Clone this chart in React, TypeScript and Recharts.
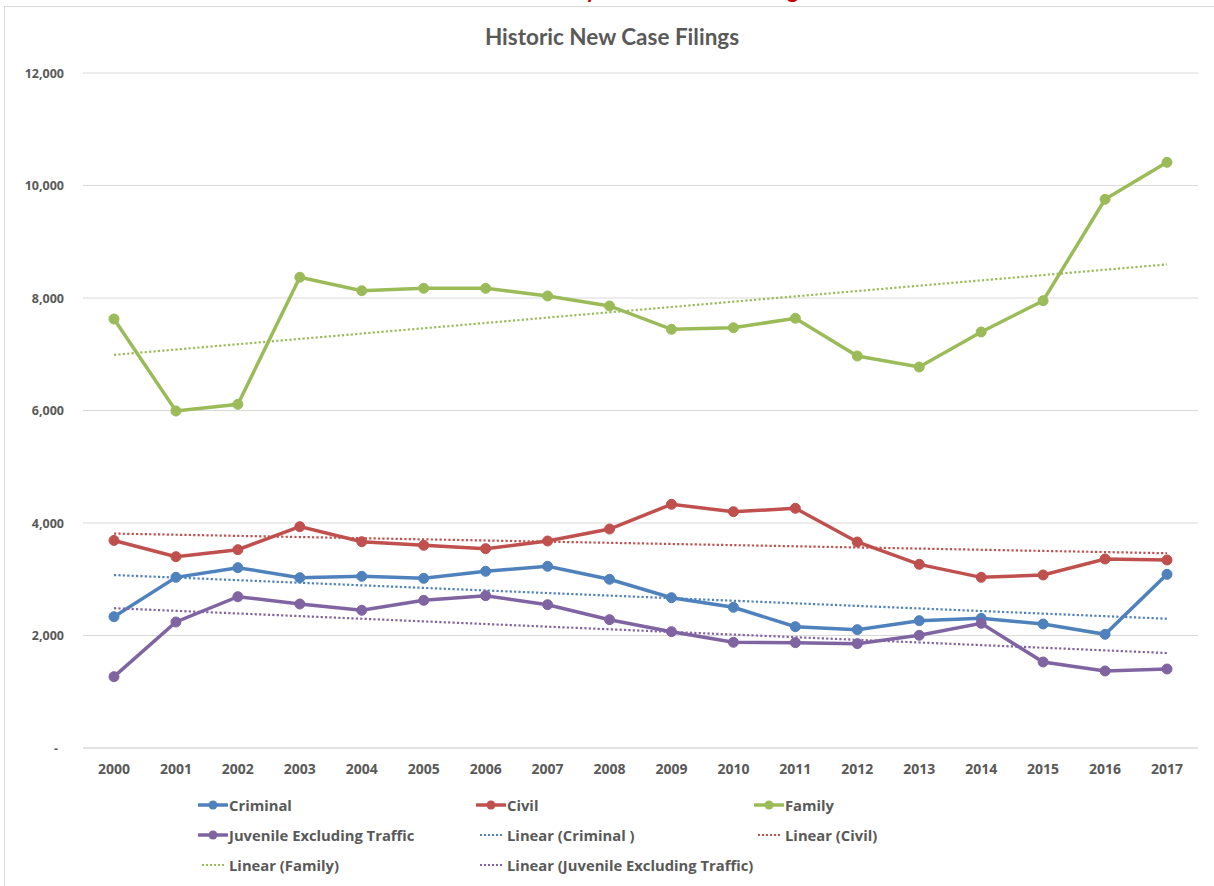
import React from 'react';
import { LineChart, Line, XAxis, YAxis, CartesianGrid } from 'recharts';

const years = ['2000', '2001', '2002', '2003', '2004', '2005', '2006', '2007', '2008', '2009', '2010', '2011', '2012', '2013', '2014', '2015', '2016', '2017'];
const criminal = [2335, 3034, 3206, 3028, 3052, 3016, 3141, 3230, 2999, 2672, 2501, 2157, 2104, 2264, 2305, 2204, 2021, 3087];
const civil = [3690, 3401, 3526, 3935, 3668, 3603, 3544, 3680, 3893, 4332, 4201, 4261, 3662, 3265, 3034, 3076, 3360, 3342];
const family = [7627, 5991, 6110, 8368, 8130, 8172, 8172, 8036, 7858, 7443, 7472, 7639, 6969, 6773, 7396, 7952, 9754, 10412];
const juvenile = [1268, 2240, 2690, 2560, 2448, 2625, 2708, 2548, 2281, 2068, 1879, 1873, 1855, 2003, 2216, 1529, 1369, 1404];
const yTicks = [0, 2000, 4000, 6000, 8000, 10000, 12000];

const title = 'Historic New Case Filings';
const pageHeading = 'Sandoval County Historic Court Filings';

const COLORS = {
  criminal: '#4F81BD',
  civil: '#C0504D',
  family: '#9BBB59',
  juvenile: '#8064A2',
};

// Least-squares linear trend, as Excel's "Linear" trendline
function linearTrend(values: number[]): number[] {
  const n = values.length;
  const mx = (n - 1) / 2;
  const my = values.reduce((a, b) => a + b, 0) / n;
  let sxy = 0;
  let sxx = 0;
  values.forEach((v, i) => {
    sxy += (i - mx) * (v - my);
    sxx += (i - mx) * (i - mx);
  });
  const slope = sxy / sxx;
  return values.map((_, i) => my + slope * (i - mx));
}

const criminalTrend = linearTrend(criminal);
const civilTrend = linearTrend(civil);
const familyTrend = linearTrend(family);
const juvenileTrend = linearTrend(juvenile);

const data = years.map((year, i) => ({
  year,
  criminal: criminal[i],
  civil: civil[i],
  family: family[i],
  juvenile: juvenile[i],
  criminalTrend: criminalTrend[i],
  civilTrend: civilTrend[i],
  familyTrend: familyTrend[i],
  juvenileTrend: juvenileTrend[i],
}));

const FONT = '"Open Sans", Lato, sans-serif';
const TITLE_FONT = 'Lato, "Open Sans", sans-serif';
const TEXT = '#595959';

const YTick = (props: any) => {
  const { y, payload } = props;
  const v = payload.value as number;
  const label = v === 0 ? '-' : v.toLocaleString('en-US');
  return (
    <text x={v === 0 ? 54 : 60} y={y} dy={4.5} textAnchor="end" fontFamily={FONT} fontWeight={700} fontSize={12.5} fill={TEXT}>
      {label}
    </text>
  );
};

const XTick = (props: any) => {
  const { x, payload } = props;
  return (
    <text x={x} y={768} textAnchor="middle" fontFamily={FONT} fontWeight={700} fontSize={14} fill={TEXT}>
      {payload.value}
    </text>
  );
};

const legendItems = [
  { label: 'Criminal', color: COLORS.criminal, dotted: false, col: 0, row: 0 },
  { label: 'Civil', color: COLORS.civil, dotted: false, col: 1, row: 0 },
  { label: 'Family', color: COLORS.family, dotted: false, col: 2, row: 0 },
  { label: 'Juvenile Excluding Traffic', color: COLORS.juvenile, dotted: false, col: 0, row: 1 },
  { label: 'Linear (Criminal )', color: COLORS.criminal, dotted: true, col: 1, row: 1 },
  { label: 'Linear (Civil)', color: COLORS.civil, dotted: true, col: 2, row: 1 },
  { label: 'Linear (Family)', color: COLORS.family, dotted: true, col: 0, row: 2 },
  { label: 'Linear (Juvenile Excluding Traffic)', color: COLORS.juvenile, dotted: true, col: 1, row: 2 },
];
const legendCols = [198, 476, 754];
const legendRows = [805, 835, 865];

const LegendIcon = ({ color, dotted }: { color: string; dotted: boolean }) => (
  <svg width={30} height={12} style={{ display: 'block' }}>
    {dotted ? (
      <line x1={4} y1={6} x2={27} y2={6} stroke={color} strokeWidth={2} strokeDasharray="2 2" />
    ) : (
      <>
        <line x1={1} y1={6} x2={29} y2={6} stroke={color} strokeWidth={3.5} strokeLinecap="round" />
        <circle cx={15} cy={6} r={4.5} fill={color} />
      </>
    )}
  </svg>
);

export default function App() {
  return (
    <div style={{ position: 'absolute', left: 0, top: 0, width: 1214, height: 886, overflow: 'hidden', background: '#fff' }}>
      <div style={{ position: 'absolute', left: 0, top: 0, width: 1214, height: 4, overflow: 'hidden' }}>
        <div style={{ position: 'absolute', left: 0, top: -24, width: 1240, textAlign: 'center', fontFamily: TITLE_FONT, fontWeight: 700, fontSize: 22, lineHeight: '28px', color: '#C00000', whiteSpace: 'nowrap' }}>
          {pageHeading}
        </div>
      </div>
      <div style={{ position: 'absolute', left: 4, top: 6, width: 1240, height: 900, border: '1px solid #d9d9d9', boxSizing: 'border-box' }} />
      <div style={{ position: 'absolute', left: 0, top: 22, width: 1224, textAlign: 'center', fontFamily: TITLE_FONT, fontWeight: 700, fontSize: 22.5, color: TEXT, lineHeight: '30px' }}>
        {title}
      </div>
      <div style={{ position: 'absolute', left: 4, top: 6 }}>
        <LineChart width={1210} height={880} data={data} margin={{ top: 67, right: 16, bottom: 108, left: 0 }}>
          <CartesianGrid vertical={false} stroke="#d9d9d9" strokeWidth={1} />
          <XAxis dataKey="year" tick={<XTick />} tickLine={false} axisLine={{ stroke: '#d9d9d9' }} height={30} interval={0} padding={{ left: 31, right: 31 }} />
          <YAxis domain={[0, 12000]} ticks={yTicks} tick={<YTick />} tickLine={false} axisLine={false} width={79} interval={0} />
          <Line dataKey="criminal" stroke={COLORS.criminal} strokeWidth={3.5} dot={{ r: 5, fill: COLORS.criminal, stroke: COLORS.criminal, strokeWidth: 1 }} isAnimationActive={false} />
          <Line dataKey="civil" stroke={COLORS.civil} strokeWidth={3.5} dot={{ r: 5, fill: COLORS.civil, stroke: COLORS.civil, strokeWidth: 1 }} isAnimationActive={false} />
          <Line dataKey="family" stroke={COLORS.family} strokeWidth={3.5} dot={{ r: 5, fill: COLORS.family, stroke: COLORS.family, strokeWidth: 1 }} isAnimationActive={false} />
          <Line dataKey="juvenile" stroke={COLORS.juvenile} strokeWidth={3.5} dot={{ r: 5, fill: COLORS.juvenile, stroke: COLORS.juvenile, strokeWidth: 1 }} isAnimationActive={false} />
          <Line dataKey="criminalTrend" stroke={COLORS.criminal} strokeWidth={2.2} strokeDasharray="2.2 2.2" dot={false} isAnimationActive={false} />
          <Line dataKey="civilTrend" stroke={COLORS.civil} strokeWidth={2.2} strokeDasharray="2.2 2.2" dot={false} isAnimationActive={false} />
          <Line dataKey="familyTrend" stroke={COLORS.family} strokeWidth={2.2} strokeDasharray="2.2 2.2" dot={false} isAnimationActive={false} />
          <Line dataKey="juvenileTrend" stroke={COLORS.juvenile} strokeWidth={2.2} strokeDasharray="2.2 2.2" dot={false} isAnimationActive={false} />
        </LineChart>
      </div>
      {legendItems.map((it) => (
        <div
          key={it.label}
          style={{
            position: 'absolute',
            left: legendCols[it.col],
            top: legendRows[it.row] - 10,
            height: 20,
            display: 'flex',
            alignItems: 'center',
            gap: 1,
            fontFamily: FONT,
            fontWeight: 700,
            fontSize: 14.8,
            color: TEXT,
            whiteSpace: 'nowrap',
          }}
        >
          <LegendIcon color={it.color} dotted={it.dotted} />
          <span>{it.label}</span>
        </div>
      ))}
    </div>
  );
}
